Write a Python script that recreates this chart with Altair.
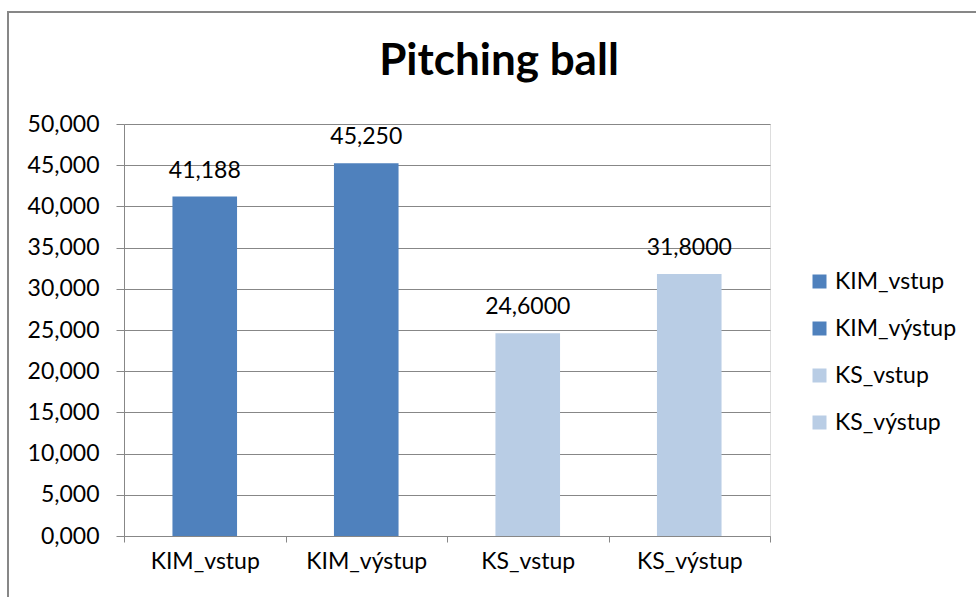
import altair as alt
import pandas as pd

# Chart data
categories = ["KIM_vstup", "KIM_výstup", "KS_vstup", "KS_výstup"]
values = [41.188, 45.25, 24.6, 31.8]
label_decimals = [3, 3, 4, 4]
bar_colors = ["#4F81BD", "#4F81BD", "#B9CDE5", "#B9CDE5"]
y_ticks = [0, 5, 10, 15, 20, 25, 30, 35, 40, 45, 50]

FONT = "Lato"
GRAY = "#878787"
FS = 23

df = pd.DataFrame({"kategorie": categories, "hodnota": values, "des": label_decimals})

x_enc = alt.X(
    "kategorie:N",
    sort=categories,
    scale=alt.Scale(paddingInner=0, paddingOuter=0),
    axis=alt.Axis(
        title=None, labelAngle=0, tickBand="extent", domainColor=GRAY, tickColor=GRAY,
        tickSize=6, labelPadding=8, labelFontSize=FS, labelFont=FONT, labelColor="black",
        grid=False,
    ),
)
y_enc = alt.Y(
    "hodnota:Q",
    scale=alt.Scale(domain=[0, 50], nice=False),
    axis=alt.Axis(
        title=None, values=y_ticks,
        labelExpr="replace(format(datum.value, '.3f'), '.', ',')",
        domainColor=GRAY, tickColor=GRAY, gridColor=GRAY, tickSize=8, labelPadding=17,
        labelFontSize=FS, labelFont=FONT, labelColor="black",
    ),
)

bars = alt.Chart(df).mark_bar(width=alt.RelativeBandSize(0.4)).encode(
    x=x_enc,
    y=y_enc,
    color=alt.Color(
        "kategorie:N",
        sort=categories,
        scale=alt.Scale(domain=categories, range=bar_colors),
        legend=alt.Legend(
            title=None, orient="none", legendX=684, legendY=146, padding=0,
            symbolType="square", symbolSize=196, symbolStrokeWidth=0,
            labelOffset=4, labelFontSize=FS, labelFont=FONT, labelColor="black",
            rowPadding=23,
        ),
    ),
)

labels = alt.Chart(df).transform_calculate(
    popis="replace(format(datum.hodnota, '.' + datum.des + 'f'), '.', ',')"
).mark_text(font=FONT, fontSize=FS, baseline="alphabetic", dy=-19, color="black").encode(
    x=alt.X("kategorie:N", sort=categories),
    y="hodnota:Q",
    text="popis:N",
)

frame = alt.Chart(alt.InlineData(values=[{}])).mark_rect(
    fillOpacity=0, stroke=GRAY, strokeWidth=2
).encode(
    x=alt.value(-116), y=alt.value(-112), x2=alt.value(900), y2=alt.value(600)
)

chart = alt.layer(frame, bars, labels).properties(
    width=646,
    height=412,
    title=alt.TitleParams(
        "Pitching ball", font=FONT, fontSize=44, fontWeight="bold", color="black",
        anchor="middle", dx=52, offset=-108, baseline="alphabetic",
    ),
    autosize=alt.AutoSizeParams(type="none"),
    padding={"left": 124, "top": 124, "right": 206, "bottom": 61},
).configure_view(stroke=None).configure(background="white")

chart.save("out.html", embed_options={"renderer": "svg", "actions": False})
